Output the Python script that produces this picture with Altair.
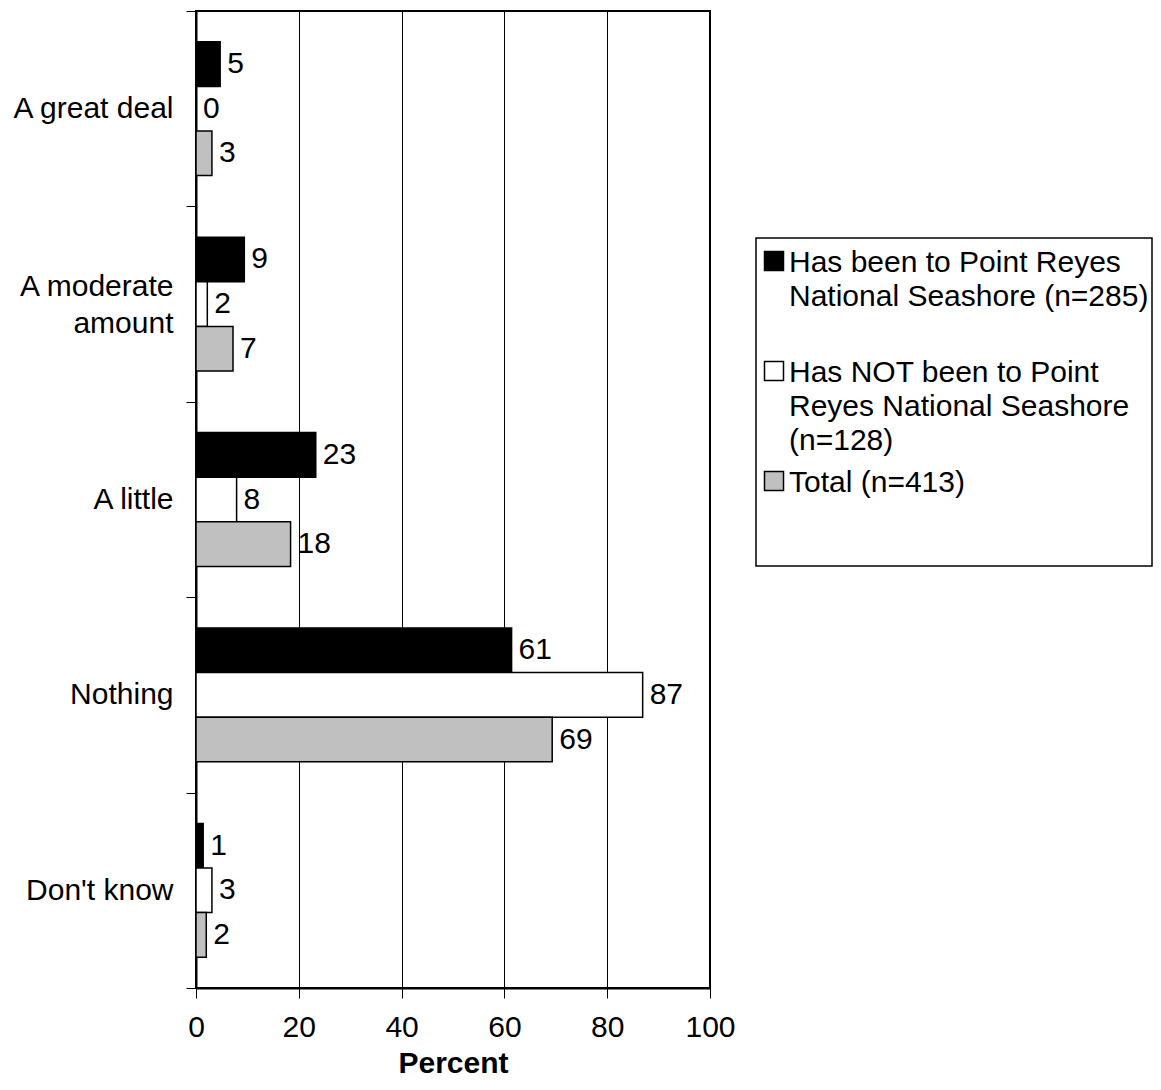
import altair as alt
import pandas as pd

FONT = "Liberation Sans"
FS = 30

categories = ["A great deal", "A moderate amount", "A little", "Nothing", "Don't know"]
series = [
    "Has been to Point Reyes National Seashore (n=285)",
    "Has NOT been to Point Reyes National Seashore (n=128)",
    "Total (n=413)",
]
legend_lines = [
    "Has been to Point Reyes\nNational Seashore (n=285)",
    "Has NOT been to Point\nReyes National Seashore\n(n=128)",
    "Total (n=413)",
]
visited = [4.7, 9.4, 23.3, 61.4, 1.4]
not_visited = [0.0, 2.2, 7.9, 86.9, 3.1]
total = [3.1, 7.2, 18.4, 69.3, 2.0]
colors = ["#000000", "#ffffff", "#c0c0c0"]
x_ticks = [0, 20, 40, 60, 80, 100]

rows = []
for s, vals in zip(series, [visited, not_visited, total]):
    for c, v in zip(categories, vals):
        rows.append({"category": c, "series": s, "value": v})
df = pd.DataFrame(rows)

label_expr = ("datum.label == 'A moderate amount' ? "
              "['A moderate', 'amount\u00a0\u00a0\u00a0'] : datum.label")

base = alt.Chart(df).encode(
    y=alt.Y(
        "category:N",
        sort=categories,
        title=None,
        scale=alt.Scale(paddingInner=0, paddingOuter=0),
        axis=alt.Axis(
            tickBand="extent",
            labelExpr=label_expr,
            labelAlign="right",
            labelBaseline="middle",
            labelLineHeight=37,
            labelPadding=13,
            labelOffset={"condition": {"test": "datum.value == 'A moderate amount'",
                                       "value": -18}, "value": 0},
            tickSize=10,
            tickWidth=1,
            domainWidth=2,
            labelOverlap=False,
            labelBound=False,
            grid=False,
        ),
    ),
    yOffset=alt.YOffset(
        "series:N", sort=series,
        scale=alt.Scale(paddingInner=0, paddingOuter=0.69),
    ),
)

bars = base.mark_bar(stroke="black", strokeWidth=1.5).encode(
    x=alt.X(
        "value:Q",
        scale=alt.Scale(domain=[0, 100], nice=False),
        title="Percent",
        axis=alt.Axis(
            values=x_ticks,
            grid=True,
            gridColor="black",
            gridWidth=1,
            gridOpacity=1,
            tickSize=10,
            tickWidth=1,
            domainWidth=2,
            labelPadding=14,
            titlePadding=6,
            titleFontWeight="bold",
            labelFlush=False,
        ),
    ),
    color=alt.Color("series:N", scale=alt.Scale(domain=series, range=colors), legend=None),
)

labels = base.mark_text(
    align="left", baseline="middle", dx=7, fontSize=FS, font=FONT, color="black"
).encode(
    x=alt.X("value:Q"),
    text=alt.Text("value:Q", format=".0f"),
)

main = alt.layer(bars, labels)

# ---- legend (drawn to the right of the plot frame) ----
leg_df = pd.DataFrame({"entry": series, "text": legend_lines})
box_df = pd.DataFrame({"box": ["legend"]})

leg_box = alt.Chart(box_df).mark_rect(
    fill="white", stroke="black", strokeWidth=1.5
).encode(
    x=alt.value(560), x2=alt.value(956), y=alt.value(227), y2=alt.value(555)
)

leg_y = alt.Y("entry:N", sort=series, axis=None,
              scale=alt.Scale(type="point", range=[250, 470], padding=0))

leg_sq = alt.Chart(leg_df).mark_square(
    size=361, stroke="black", strokeWidth=1.5, opacity=1, filled=True
).encode(
    y=leg_y,
    x=alt.value(578),
    fill=alt.Fill("entry:N", scale=alt.Scale(domain=series, range=colors), legend=None),
)
leg_txt = alt.Chart(leg_df).mark_text(
    align="left", baseline="top", dy=-13, fontSize=FS, lineHeight=34,
    lineBreak="\n", font=FONT, color="black",
).encode(
    y=leg_y,
    x=alt.value(593),
    text="text:N",
)
legend = alt.layer(leg_box, leg_sq, leg_txt)

chart = alt.layer(main, legend).resolve_scale(
    y="independent"
).properties(
    width=514, height=977,
    autosize=alt.AutoSizeParams(type="none"),
    padding={"left": 188, "top": 3, "right": 443, "bottom": 92},
    background="white",
).configure_view(
    stroke="black", strokeWidth=2,
).configure_axis(
    labelFont=FONT, titleFont=FONT, labelFontSize=FS, titleFontSize=FS,
    labelColor="black", titleColor="black", domainColor="black", tickColor="black",
)

chart.save("out.html", embed_options={"renderer": "svg", "actions": False})
